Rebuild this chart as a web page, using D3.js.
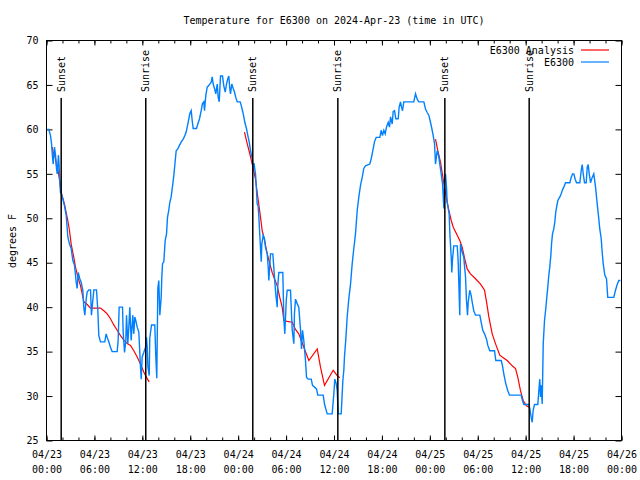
<!DOCTYPE html>
<html><head><meta charset="utf-8">
<script src="https://cdn.jsdelivr.net/npm/d3@7"></script>
<style>
body{margin:0;background:#fff}
svg{display:block}
text{font-family:"DejaVu Sans Mono",monospace;font-size:10px;fill:#000}
</style>
</head><body><svg id="c" width="640" height="480"></svg>
<script>
// hours after 2024-04-23 00:00 UTC, temperature in degrees F
const obsSeries = [
[0.08,60],[0.29,60],[0.5,59.3],[0.63,58.4],[0.75,56.9],[0.84,56.1],[1.0,58],[1.13,57.1],[1.25,55.6],[1.34,55],
[1.5,57.1],[1.59,55.75],[1.67,54.1],[1.75,52.9],[1.92,52.6],[2.09,52],[2.25,51.4],[2.47,50.3],[2.67,47.9],[2.88,47.1],
[3.09,46.6],[3.3,45.25],[3.51,44.7],[3.72,42.8],[3.84,42.1],[3.97,43.9],[4.17,43.2],[4.34,42.8],[4.55,41.9],[4.67,40],
[4.8,39.1],[4.97,40.9],[5.09,41.7],[5.3,41.95],[5.51,41.95],[5.63,39.1],[5.8,40.75],[5.93,41.95],[6.26,41.95],[6.43,39.6],
[6.55,36.8],[6.76,36.1],[7.3,36.1],[7.47,37],[7.6,36.6],[7.8,36.1],[8.01,35.5],[8.22,35],[8.85,35],[8.97,36.25],
[9.1,40],[9.52,40],[9.6,37.2],[9.77,34.9],[9.93,36.25],[10.02,39.1],[10.18,35.9],[10.31,37.75],[10.43,40],[10.6,36.25],
[10.81,39.1],[10.93,37],[11.06,38.9],[11.23,38.3],[11.36,37.75],[11.56,37.2],[11.77,33.25],[11.86,31.9],[11.98,34.4],[12.18,34.9],
[12.4,35.5],[12.52,36.6],[12.61,35.5],[12.69,33.4],[12.86,32.3],[12.93,36.5],[13.15,38],[13.56,38],[13.69,34.4],[13.81,32],
[13.94,42.1],[14.06,43],[14.19,39.1],[14.36,41.1],[14.44,43.4],[14.53,44.9],[14.69,45.1],[14.86,47.5],[15.03,48.25],[15.15,50.1],
[15.31,50.9],[15.44,51.8],[15.61,52.4],[15.82,53.9],[15.94,54.8],[16.12,56.5],[16.24,57.6],[16.44,57.8],[16.65,58.2],[16.87,58.6],
[17.12,58.9],[17.32,59.3],[17.49,59.7],[17.74,60.8],[17.94,61.75],[18.12,62.1],[18.24,61],[18.37,60.1],[18.78,60.1],[18.95,60.6],
[19.16,61.2],[19.37,62.1],[19.53,62.9],[19.7,63.1],[19.78,62.1],[19.95,63.8],[20.12,64.75],[20.29,64.9],[20.62,65.3],[20.75,65.9],
[20.87,65.1],[21.04,64.6],[21.2,64],[21.38,65.1],[21.5,63.6],[21.63,63.1],[21.79,66],[22.04,66],[22.2,64.9],[22.38,64.2],
[22.54,65.1],[22.7,65.7],[22.83,66],[22.95,64.6],[23.04,64],[23.2,65.1],[23.38,64.6],[23.54,64.2],[23.7,63.6],[23.88,63.1],
[24.25,63.1],[24.38,62.7],[24.54,62.1],[24.67,61.6],[24.83,60.8],[25.04,60.1],[25.21,59.3],[25.38,58.6],[25.55,57.6],[25.76,56.7],
[25.88,55.6],[25.98,56.2],[26.17,55],[26.3,53.1],[26.38,51.6],[26.5,51.4],[26.58,50.3],[26.71,48.1],[26.89,45.1],[26.96,47.1],
[27.14,48.1],[27.3,47.7],[27.42,46.75],[27.64,46],[27.76,44.5],[27.84,43],[28.05,46],[28.34,46],[28.46,44.5],[28.59,42.8],
[28.71,41.5],[28.89,40],[28.96,42.4],[29.09,43.9],[29.59,43.9],[29.72,38.7],[29.84,37],[30.02,40.75],[30.14,41.9],[30.55,41.9],
[30.77,37.4],[30.97,35.9],[31.05,39.3],[31.18,40.9],[31.39,40.4],[31.59,40],[31.81,37.4],[31.93,35.3],[32.06,37.4],[32.22,36.25],
[32.43,34],[32.56,32.1],[32.77,31.9],[33.15,31.9],[33.31,31.2],[33.81,30.8],[33.97,30.1],[34.65,30.1],[34.81,29.1],[35.15,28],
[35.77,28],[35.98,30.25],[36.1,31.9],[36.28,31.4],[36.4,30.6],[36.53,28],[36.9,28],[37.11,31.75],[37.23,32.9],[37.31,34.4],
[37.48,36.4],[37.65,38.9],[37.85,40.9],[38.07,42.6],[38.28,44.9],[38.48,46.6],[38.69,48.25],[38.91,50.9],[39.11,52.4],[39.32,53.7],
[39.53,54.6],[39.73,55.6],[39.94,55.9],[40.48,56.1],[40.66,56.7],[40.86,57.6],[41.07,58.6],[41.28,59.1],[41.74,59.1],[41.91,59.9],
[42.07,59.3],[42.24,59.9],[42.41,59.5],[42.57,60.25],[42.79,60.8],[42.95,60.25],[43.08,61.4],[43.29,60.6],[43.41,62],[43.58,62.1],
[43.74,61.2],[44.04,61.2],[44.16,62.5],[44.33,63.1],[44.45,62.5],[44.58,62.1],[44.74,63.1],[45.99,63.1],[46.21,64],[46.42,63.4],
[46.62,63.1],[47.25,63.1],[47.46,62.3],[47.67,61.9],[47.87,61.6],[48.08,60.8],[48.25,60.1],[48.42,59.3],[48.59,58.4],[48.71,56.1],
[48.92,57.6],[49.09,57.1],[49.25,56.1],[49.42,55],[49.59,53.9],[49.68,52.4],[49.76,51.1],[49.84,54.25],[49.96,55],[50.09,53.5],
[50.17,51.8],[50.3,51.1],[50.42,50.5],[50.5,48.4],[50.68,45.6],[50.75,43.9],[50.84,45.4],[51.0,46.9],[51.43,46.9],[51.55,45.1],
[51.75,39.1],[51.84,47.1],[52.05,46.2],[52.25,45.6],[52.47,43.4],[52.59,40.75],[52.72,39.1],[52.8,40.5],[53.0,41.9],[53.18,41.3],
[53.3,40.6],[53.5,39.6],[53.72,39.1],[54.26,39.1],[54.43,38.3],[54.63,37.4],[54.85,37],[55.1,36.4],[55.26,35.7],[55.51,35.1],
[56.1,35.1],[56.26,34],[56.94,34],[57.1,33.4],[57.26,32.5],[57.51,31.4],[57.76,30.6],[57.98,30.1],[59.44,30.1],[59.6,29.5],
[59.77,29.05],[60.39,29.05],[60.52,28.6],[60.69,27.6],[60.82,27.05],[60.94,28.4],[61.11,29.05],[61.52,29.05],[61.7,31.2],[61.77,31.9],
[61.86,29.9],[61.95,31.2],[62.07,29.1],[62.2,35.9],[62.36,38.5],[62.49,39.6],[62.61,40.75],[62.77,42.25],[62.9,43.6],[63.02,44.5],
[63.15,45.8],[63.24,47.1],[63.36,48.25],[63.52,48.8],[63.65,49.6],[63.77,50.7],[63.9,51.4],[64.03,52],[64.28,52.4],[64.45,52.75],
[64.61,53.2],[64.78,53.5],[64.99,54],[65.53,54],[65.7,54.6],[65.87,55],[66.03,55],[66.2,54.4],[66.37,54],[66.78,54],
[66.96,55.4],[67.08,56.05],[67.21,55],[67.37,54],[67.58,54],[67.71,55.75],[67.83,56.05],[67.96,55],[68.12,54],[68.33,54.6],
[68.53,55],[68.75,53.5],[68.96,51.6],[69.16,49.9],[69.28,48.8],[69.46,47.7],[69.58,46.2],[69.71,44.9],[69.91,43.6],[70.12,43.2],
[70.28,41.1],[71.03,41.1],[71.25,41.9],[71.46,42.55],[71.66,43],[71.87,43]
];
const anaSeries1 = [
[0.71,58],[0.84,57.4],[1.0,57.1],[1.13,56.7],[1.25,55.9],[1.41,55.6],[1.54,54.8],[1.67,54.1],[1.84,52.9],[2.0,52.4],
[2.25,51.6],[2.67,49.75],[2.88,48.6],[3.09,47.1],[3.42,45.6],[3.63,44.5],[3.92,43.4],[4.26,42.4],[4.47,41.5],[4.67,40.6],
[5.1,40.3],[5.51,39.9],[6.76,39.9],[7.18,39.6],[7.6,39.25],[8.01,38.7],[8.43,38],[8.85,37.4],[9.27,36.8],[9.68,36.3],
[10.1,35.9],[10.52,35.7],[10.93,35.1],[11.36,34.4],[11.77,33.6],[12.18,32.7],[12.52,32.1],[12.86,31.6]
];
const anaSeries2 = [
[24.79,59.7],[25.13,58.4],[25.42,57.4],[25.76,56.1],[26.17,54.4],[26.38,52.9],[26.58,51.6],[26.8,50.1],[27.01,48.6],[27.3,47.5],
[27.64,46],[27.96,44.9],[28.26,43.9],[28.55,43.2],[28.89,42.4],[29.21,41.1],[29.51,40],[29.72,38.5],[30.14,38.4],[30.77,38.3],
[31.18,37.5],[31.59,37],[32.22,35.5],[32.85,34],[33.9,35.3],[34.31,33.25],[34.81,31.2],[35.9,32.9],[36.4,32.3],[36.73,32.05]
];
const anaSeries3 = [
[48.71,58.9],[49.0,57.6],[49.34,56.3],[49.76,53.9],[50.09,52.2],[50.38,50.9],[50.68,49.75],[50.93,49],[51.34,48.25],[51.75,47.5],
[52.05,46.75],[52.38,45.4],[52.68,44.3],[53.09,43.75],[53.72,43.2],[54.35,42.6],[54.85,41.9],[55.1,40.6],[55.39,38.9],[55.81,37],
[56.22,35.9],[56.76,34.6],[57.06,34.4],[57.69,34],[58.31,33.4],[58.73,33.1],[59.02,32.1],[59.35,30.6],[59.69,29.5],[60.1,28.9],[60.44,28.75]
];
const sunHours = [1.84, 12.43, 25.83, 36.48, 49.88, 60.44];
const sunLabels = ["Sunset","Sunrise","Sunset","Sunrise","Sunset","Sunrise"];
const yTickValues = [25,30,35,40,45,50,55,60,65,70];
const xMajorHours = [0,6,12,18,24,30,36,42,48,54,60,66,72];
const xMinorHours = [0,2,4,6,8,10,12,14,16,18,20,22,24,26,28,30,32,34,36,38,40,42,44,46,48,50,52,54,56,58,60,62,64,66,68,70,72];
const legendNames = ["E6300 Analysis","E6300"];
const titleText = "Temperature for E6300 on 2024-Apr-23 (time in UTC)";
const yLabel = "degrees F";

const t0 = Date.UTC(2024,3,23);
const toDate = h => new Date(t0 + h*3600e3);

const L=46.5, R=621.5, T=40.5, B=440.5;
const svg = d3.select("#c");
const x = d3.scaleUtc().domain([toDate(0), toDate(72)]).range([L,R]);
const y = d3.scaleLinear().domain([25,70]).range([B,T]);

svg.append("text").attr("x",(L+R)/2).attr("y",24).attr("text-anchor","middle").text(titleText);
svg.append("text").attr("transform","translate(12,241) rotate(-90)").attr("text-anchor","middle")
  .attr("dominant-baseline","central").text(yLabel);

function styleAxis(g){ g.select(".domain").remove(); g.selectAll(".tick line").attr("stroke","#000").attr("stroke-width",1);
  g.selectAll("text").attr("font-family",null).attr("font-size",null).attr("fill","#000"); }

// bottom major + labels
const fmtD = d3.utcFormat("%m/%d"), fmtT = d3.utcFormat("%H:%M");
const gb = svg.append("g").attr("transform",`translate(0,${B})`)
  .call(d3.axisBottom(x).tickValues(xMajorHours.map(toDate)).tickSizeInner(-5).tickSizeOuter(0).tickPadding(10).tickFormat(fmtD));
gb.call(styleAxis);
gb.selectAll(".tick text").each(function(d){
  const s=d3.select(this); s.text(null);
  s.append("tspan").attr("x",0).text(fmtD(d));
  s.append("tspan").attr("x",0).attr("dy","1.5em").text(fmtT(d));
});
svg.append("g").attr("transform",`translate(0,${B})`)
  .call(d3.axisBottom(x).tickValues(xMinorHours.map(toDate)).tickSizeInner(-3).tickSizeOuter(0).tickFormat(""))
  .call(styleAxis);
// top
svg.append("g").attr("transform",`translate(0,${T})`)
  .call(d3.axisTop(x).tickValues(xMajorHours.map(toDate)).tickSizeInner(-5).tickSizeOuter(0).tickFormat(""))
  .call(styleAxis);
svg.append("g").attr("transform",`translate(0,${T})`)
  .call(d3.axisTop(x).tickValues(xMinorHours.map(toDate)).tickSizeInner(-3).tickSizeOuter(0).tickFormat(""))
  .call(styleAxis);
// left / right
svg.append("g").attr("transform",`translate(${L},0)`)
  .call(d3.axisLeft(y).tickValues(yTickValues).tickSizeInner(-6).tickSizeOuter(0).tickPadding(8).tickFormat(d3.format("d")))
  .call(styleAxis);
svg.append("g").attr("transform",`translate(${R},0)`)
  .call(d3.axisRight(y).tickValues(yTickValues).tickSizeInner(-6).tickSizeOuter(0).tickFormat(""))
  .call(styleAxis);

// frame
svg.append("rect").attr("x",L).attr("y",T).attr("width",R-L).attr("height",B-T)
  .attr("fill","none").attr("stroke","#000").attr("stroke-width",1);

const line = d3.line().x(d=>x(toDate(d[0]))).y(d=>y(d[1]));
const plot = svg.append("g");
[anaSeries1, anaSeries2, anaSeries3].forEach(s=>{
  plot.append("path").datum(s).attr("d",line).attr("fill","none").attr("stroke","#ff0000").attr("stroke-width",1.2);
});
plot.append("path").datum(obsSeries).attr("d",line).attr("fill","none").attr("stroke","#0080ff").attr("stroke-width",1.4)
  .attr("stroke-linejoin","miter");

// sun lines
sunHours.forEach((h,i)=>{
  const xx = x(toDate(h));
  svg.append("line").attr("x1",xx).attr("x2",xx).attr("y1",98).attr("y2",B).attr("stroke","#000").attr("stroke-width",1.5);
  svg.append("text").attr("transform",`translate(${xx},92) rotate(-90)`).attr("dominant-baseline","central")
    .attr("text-anchor","start").text(sunLabels[i]);
});

// legend
const legColors = ["#ff0000","#0080ff"];
legendNames.forEach((n,i)=>{
  const yy = 50 + i*12;
  svg.append("text").attr("x",574).attr("y",yy).attr("dominant-baseline","central").attr("text-anchor","end").text(n);
  svg.append("line").attr("x1",581).attr("x2",609).attr("y1",yy).attr("y2",yy).attr("stroke",legColors[i]).attr("stroke-width",1.2);
});
</script>
</body></html>
